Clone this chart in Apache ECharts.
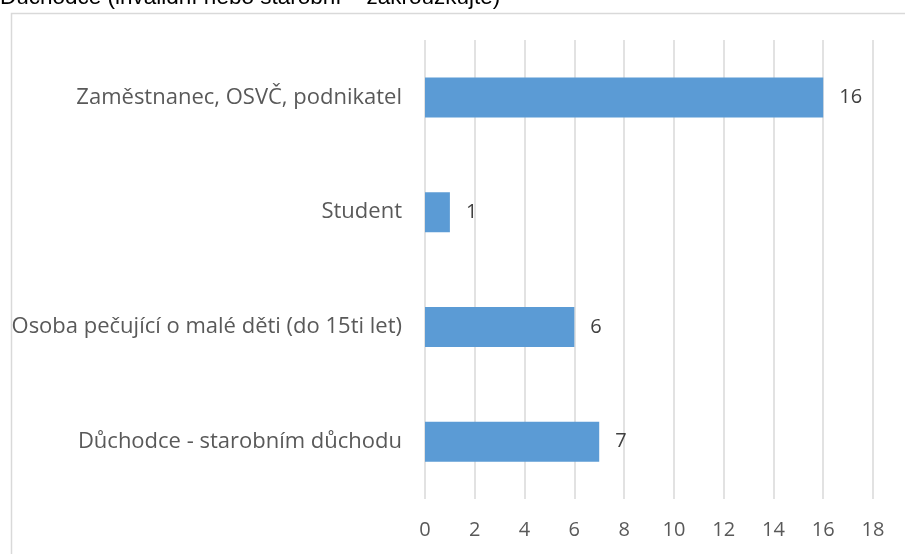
<!DOCTYPE html>
<html>
<head>
<meta charset="utf-8">
<script src="https://cdn.jsdelivr.net/npm/echarts@6/dist/echarts.min.js"></script>
<style>
  html, body { margin: 0; padding: 0; background: #ffffff; }
  #chart { width: 905px; height: 554px; }
</style>
</head>
<body>
<div id="chart"></div>
<script>
// data, top to bottom as in the picture
const categories = [
  'Zaměstnanec, OSVČ, podnikatel',
  'Student',
  'Osoba pečující o malé děti (do 15ti let)',
  'Důchodce - starobním důchodu'
]
const values = [16, 1, 6, 7]
const xTicks = [0, 2, 4, 6, 8, 10, 12, 14, 16, 18]
const cutTitle = 'Důchodce (invalidní nebo starobní – zakroužkujte)'

const myChart = echarts.init(document.getElementById('chart'))
const labelFont = 'Open Sans'

const option = {
  backgroundColor: '#ffffff',
  animation: false,
  graphic: [
    {
      type: 'text',
      left: 0,
      top: -14,
      style: {
        text: cutTitle,
        font: '22.5px "Liberation Sans"',
        fill: '#000000'
      }
    },
    {
      type: 'rect',
      left: 9,
      top: 11,
      shape: { width: 1000, height: 1000 },
      style: { fill: 'none', stroke: '#d9d9d9', lineWidth: 1.5 }
    }
  ],
  grid: {
    left: 425,
    right: 32,
    top: 40,
    bottom: 55
  },
  xAxis: {
    type: 'value',
    min: xTicks[0],
    max: xTicks[xTicks.length - 1],
    interval: 2,
    axisLine: { show: false },
    axisTick: { show: false },
    axisLabel: {
      margin: 21,
      fontFamily: labelFont,
      fontSize: 20,
      color: '#595959'
    },
    splitLine: { lineStyle: { color: '#d9d9d9', width: 1.5 } }
  },
  yAxis: {
    type: 'category',
    inverse: true,
    data: categories,
    axisLine: { show: false },
    axisTick: { show: false },
    axisLabel: {
      margin: 23,
      fontFamily: labelFont,
      fontSize: 22,
      color: '#595959'
    }
  },
  series: [
    {
      type: 'bar',
      data: values,
      barWidth: 40,
      itemStyle: { color: '#5b9bd5' },
      label: {
        show: true,
        position: 'right',
        distance: 16,
        fontFamily: labelFont,
        fontSize: 20,
        color: '#404040'
      }
    }
  ]
}

myChart.setOption(option)
</script>
</body>
</html>
